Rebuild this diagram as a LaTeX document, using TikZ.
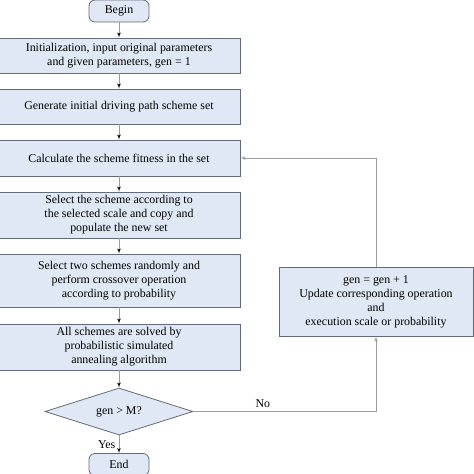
\documentclass[tikz,border=0pt]{standalone}
\usepackage{fontspec}
\setmainfont{Liberation Serif}
\usetikzlibrary{calc, arrows, shapes.geometric}
\definecolor{boxfill}{HTML}{DFE8F4}
\definecolor{boxline}{HTML}{636B7A}
\definecolor{linkgray}{HTML}{9C9C9C}
\tikzstyle{proc}=[draw=boxline, fill=boxfill, line width=0.8pt, rectangle,
minimum width=242pt, align=center, inner sep=2pt]
\tikzstyle{term}=[draw=boxline, fill=boxfill, line width=0.8pt, rectangle,
rounded corners=6pt, minimum width=60pt, minimum height=22pt, inner sep=1pt]
\tikzstyle{decide}=[draw=boxline, fill=boxfill, line width=0.8pt, diamond,
aspect=3.1, minimum width=148pt, minimum height=47pt, inner sep=0pt]
\tikzstyle{link}=[draw=linkgray, line width=0.7pt]

\begin{document}
\begin{tikzpicture}[x=1pt,y=1pt,node distance=50pt,>=latex',font=\fontsize{11.9}{14}\selectfont]
      \useasboundingbox (0,0) rectangle (474,-474);
      \node [term] (begin) at (119,-11) {Begin};
      \node [proc, minimum height=35pt] (init) [below of=begin, node distance=44.5pt] {Initialization, input original parameters\\and given parameters, gen = 1};
      \node [proc, minimum height=35pt] (gen) [below of=init, node distance=51pt] {Generate initial driving path scheme set};
      \node [proc, minimum height=36pt] (fit) [below of=gen, node distance=51.5pt] {Calculate the scheme fitness in the set};
      \node [proc, minimum height=46pt] (sel) [below of=fit, node distance=57pt] {Select the scheme according to\\the selected scale and copy and\\populate the new set};
      \node [proc, minimum height=53pt] (cross) [below of=sel, node distance=65.5pt] {Select two schemes randomly and\\perform crossover operation\\according to probability};
      \node [proc, minimum height=46pt] (anneal) [below of=cross, node distance=66.5pt] {All schemes are solved by\\probabilistic simulated\\annealing algorithm};
      \node [decide] (test) [below of=anneal, node distance=64.5pt] {gen > M?};
      \node [term] (end) [below of=test, node distance=53pt] {End};
      \node [proc, minimum width=194pt, minimum height=69pt] (upd) at (376,-301.5) {gen = gen + 1\\Update corresponding operation\\and\\execution scale or probability};
      \path[link,->] (begin) edge (init);
      \path[link,->] (init) edge (gen);
      \path[link,->] (gen) edge (fit);
      \path[link,->] (fit) edge (sel);
      \path[link,->] (sel) edge (cross);
      \path[link,->] (cross) edge (anneal);
      \path[link,->] (anneal) edge (test);
      \path[link,->] (test) edge node[left, pos=0.55] {Yes} (end);
      \draw[link,->] (test.east) -| node[above, pos=0.19] {No} (upd.south);
      \draw[link,->] (upd.north) |- (fit.east);
  \end{tikzpicture}
\end{document}
